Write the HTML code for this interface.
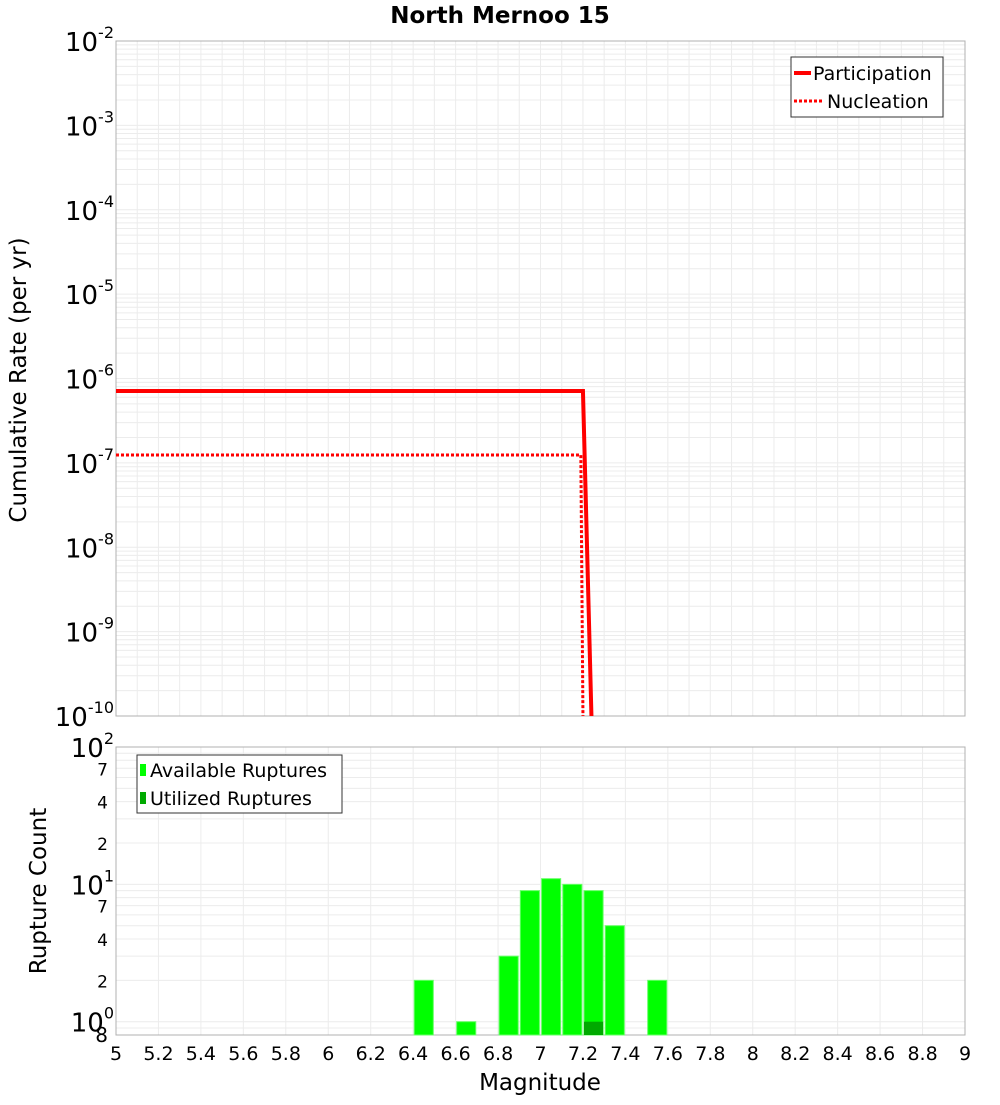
<!DOCTYPE html>
<html><head><meta charset="utf-8"><style>
body{margin:0;background:#fff;font-family:"Liberation Sans","DejaVu Sans",sans-serif}
svg text{font-family:"DejaVu Sans","Liberation Sans",sans-serif}
</style></head><body>
<svg id="c" width="1000" height="1100" xmlns="http://www.w3.org/2000/svg"></svg>
<script>
const xTicks=[5,5.2,5.4,5.6,5.8,6,6.2,6.4,6.6,6.8,7,7.2,7.4,7.6,7.8,8,8.2,8.4,8.6,8.8,9];
const partMag=[5,7.2,7.24];
const partRate=[7.1e-7,7.1e-7,1e-10];
const nuclMag=[5,7.19,7.2];
const nuclRate=[1.24e-7,1.24e-7,1e-10];
const binMag=[6.45,6.65,6.85,6.95,7.05,7.15,7.25,7.35,7.55];
const availCount=[2,1,3,9,11,10,9,5,2];
const utilMag=[7.25];
const utilCount=[1];
const topExps=[-2,-3,-4,-5,-6,-7,-8,-9,-10];
const NS="http://www.w3.org/2000/svg";
const svg=document.getElementById('c');
function el(t,a,p){const e=document.createElementNS(NS,t);for(const k in a)e.setAttribute(k,a[k]);(p||svg).appendChild(e);return e;}
const X0=116,X1=965;
const x=m=>X0+(m-5)/4*(X1-X0);
const T0=41,T1=716;
const yT=v=>T0+(-2-Math.log10(v))/8*(T1-T0);
const B0=747,B1=1035;
const yB=v=>B0+(2-Math.log10(v))/Math.log10(100/0.8)*(B1-B0);
let t=el('text',{x:500,y:23,'text-anchor':'middle','font-size':23,'font-weight':'bold'});t.textContent='North Mernoo 15';

for(let m=5;m<=9.001;m+=0.1){el('line',{x1:x(m),x2:x(m),y1:T0,y2:T1,stroke:'#ececec'});}
for(let e=-10;e<-2;e++)for(let k=1;k<10;k++){const y=yT(k*Math.pow(10,e));el('line',{x1:X0,x2:X1,y1:y,y2:y,stroke:'#ececec'});}
let r=el('rect',{x:X0,y:T0,width:X1-X0,height:T1-T0,fill:'none',stroke:'#b0b0b0'});

topExps.forEach(e=>{const y=yT(Math.pow(10,e));const g=el('text',{x:114,y:y+10,'text-anchor':'end','font-size':26});g.innerHTML='10<tspan dy="-13" font-size="16">'+e+'</tspan>';
});
t=el('text',{x:26,y:380,'text-anchor':'middle','font-size':23,transform:'rotate(-90 26 380)'});t.textContent='Cumulative Rate (per yr)';

let p=el('polyline',{points:partMag.map((m,i)=>x(m)+','+yT(partRate[i])).join(' '),fill:'none',stroke:'#f00','stroke-width':4});

p=el('polyline',{points:nuclMag.map((m,i)=>x(m)+','+yT(nuclRate[i])).join(' '),fill:'none',stroke:'#f00','stroke-width':3,'stroke-dasharray':'3,2'});

let lg=el('g',{});
el('rect',{x:791,y:57,width:152,height:60,fill:'#fff',stroke:'#333'},lg);
el('line',{x1:794,x2:811,y1:73,y2:73,stroke:'#f00','stroke-width':4},lg);
el('line',{x1:794,x2:823,y1:101,y2:101,stroke:'#f00','stroke-width':3,'stroke-dasharray':'3,2'},lg);
t=el('text',{x:813,y:80,'font-size':19},lg);t.textContent='Participation';
t=el('text',{x:827,y:108,'font-size':19},lg);t.textContent='Nucleation';
for(let m=5;m<=9.001;m+=0.2){el('line',{x1:x(m),x2:x(m),y1:B0,y2:B1,stroke:'#ececec'});}
[0.8,0.9,1,2,3,4,5,6,7,8,9,10,20,30,40,50,60,70,80,90].forEach(v=>{const y=yB(v);el('line',{x1:X0,x2:X1,y1:y,y2:y,stroke:'#ececec'});});
r=el('rect',{x:X0,y:B0,width:X1-X0,height:B1-B0,fill:'none',stroke:'#b0b0b0'});

const bw=x(5.09)-x(5);
binMag.forEach((m,i)=>{const b=el('rect',{x:x(m)-bw/2,y:yB(availCount[i]),width:bw,height:B1-yB(availCount[i]),fill:'#00ff00',stroke:'#6f6','stroke-width':1});
});
utilMag.forEach((m,i)=>{const b=el('rect',{x:x(m)-bw/2,y:yB(utilCount[i]),width:bw,height:B1-yB(utilCount[i]),fill:'#00aa00'});
});
[[100,'2'],[10,'1'],[1,'0']].forEach(([v,e])=>{const g=el('text',{x:114,y:yB(v)+10,'text-anchor':'end','font-size':26});g.innerHTML='10<tspan dy="-13" font-size="16">'+e+'</tspan>';
});
[70,40,20,7,4,2,0.8].forEach(v=>{const g=el('text',{x:108,y:yB(v)+7,'text-anchor':'end','font-size':v==0.8?20:17});g.textContent=String(v==0.8?8:(v>=10?v/10:v));
});
t=el('text',{x:46,y:891,'text-anchor':'middle','font-size':23,transform:'rotate(-90 46 891)'});t.textContent='Rupture Count';

lg=el('g',{});
el('rect',{x:137,y:755,width:205,height:58,fill:'#fff',stroke:'#333'},lg);
el('rect',{x:140,y:764,width:6,height:12,fill:'#00ff00'},lg);
el('rect',{x:140,y:792,width:6,height:12,fill:'#00aa00'},lg);
t=el('text',{x:150,y:777,'font-size':19},lg);t.textContent='Available Ruptures';
t=el('text',{x:150,y:805,'font-size':19},lg);t.textContent='Utilized Ruptures';
xTicks.forEach(m=>{const g=el('text',{x:x(m),y:1060,'text-anchor':'middle','font-size':19});g.textContent=String(m);
});
t=el('text',{x:540,y:1090,'text-anchor':'middle','font-size':23});t.textContent='Magnitude';

</script>
</body></html>
